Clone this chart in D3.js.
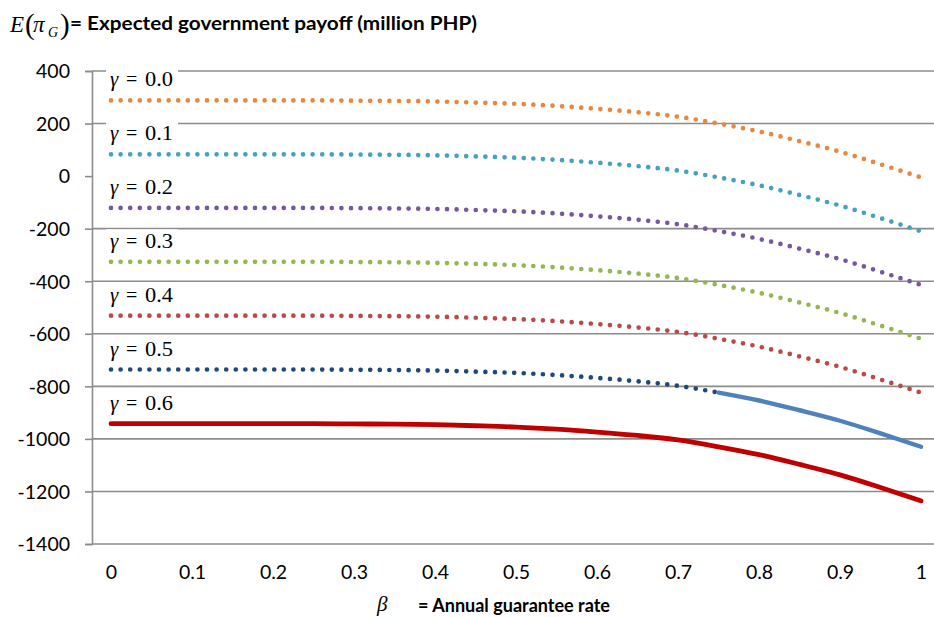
<!DOCTYPE html>
<html>
<head>
<meta charset="utf-8">
<script src="https://cdn.jsdelivr.net/npm/d3@7"></script>
<style>
  html, body { margin: 0; padding: 0; background: #fff; }
  svg { display: block; }
</style>
</head>
<body>
<svg id="chart" width="934" height="617"></svg>
<script>
// ---- data ----
const betas = [0, 0.05, 0.1, 0.15, 0.2, 0.25, 0.3, 0.35, 0.4, 0.45, 0.5, 0.55, 0.6, 0.65, 0.7, 0.75, 0.8, 0.85, 0.9, 0.95, 1];
const gammaLabels = ["0.0", "0.1", "0.2", "0.3", "0.4", "0.5", "0.6"];
const payoffG00 = [288, 288, 288, 288, 288, 288, 287, 286, 284, 280, 275, 267, 256, 243, 226, 200, 170, 133, 93, 45, -5];
const payoffG01 = [83, 83, 83, 83, 83, 83, 82, 81, 79, 75, 70, 62, 51, 38, 21, -5, -35, -72, -112, -160, -210];
const payoffG02 = [-121, -121, -121, -121, -121, -121, -122, -123, -125, -129, -134, -142, -153, -166, -183, -209, -239, -276, -316, -364, -414];
const payoffG03 = [-326, -326, -326, -326, -326, -326, -327, -328, -330, -334, -339, -347, -358, -371, -388, -414, -444, -481, -521, -569, -619];
const payoffG04 = [-531, -531, -531, -531, -531, -531, -532, -533, -535, -539, -544, -552, -563, -576, -593, -619, -649, -686, -726, -774, -824];
const payoffG05 = [-736, -736, -736, -736, -736, -736, -737, -738, -740, -744, -749, -757, -768, -781, -798, -824, -854, -891, -931, -979, -1030];
const payoffG06 = [-942, -942, -942, -942, -942, -942, -943, -944, -946, -950, -955, -963, -974, -987, -1004, -1030, -1060, -1097, -1137, -1185, -1236];
const g05SolidFrom = 0.75;   // γ = 0.5 curve turns solid from this β on
const yTicks = [400, 200, 0, -200, -400, -600, -800, -1000, -1200, -1400];
const xTicks = [0, 0.1, 0.2, 0.3, 0.4, 0.5, 0.6, 0.7, 0.8, 0.9, 1];

// ---- layout ----
const svg = d3.select("#chart");
const axisX = 92, plotTop = 71, plotBottom = 544, plotRight = 934;
const x = d3.scaleLinear().domain([0, 1]).range([111, 921]);
const y = d3.scaleLinear().domain([-1400, 400]).range([plotBottom, plotTop]);
const gridColor = "#8c8c8c";
const sans = "Lato, 'Open Sans', sans-serif";
const serif = "'Liberation Serif', 'DejaVu Serif', serif";

// gridlines (no line at 0, bottom one is the axis)
svg.append("g").selectAll("line")
  .data(yTicks.filter(v => v !== 0))
  .join("line")
  .attr("x1", axisX).attr("x2", plotRight)
  .attr("y1", d => y(d)).attr("y2", d => y(d))
  .attr("stroke", gridColor).attr("stroke-width", 1.6);

// y axis
const yAxis = d3.axisLeft(y).tickValues(yTicks).tickSize(7).tickPadding(15).tickFormat(d => String(d));
const gy = svg.append("g").attr("transform", `translate(${axisX},0)`).call(yAxis);
gy.select(".domain").attr("stroke", gridColor).attr("stroke-width", 1.6);
gy.selectAll(".tick line").attr("stroke", gridColor).attr("stroke-width", 1.6);
gy.selectAll(".tick text").attr("font-family", sans).attr("font-size", 19.5).attr("fill", "#000")
  .attr("dy", "0.35em");

// x axis labels (no tick marks)
const xAxis = d3.axisBottom(x).tickValues(xTicks).tickSize(0).tickPadding(0)
  .tickFormat(d => (d === 0 || d === 1) ? String(d) : d3.format(".1f")(d));
const gx = svg.append("g").attr("transform", `translate(0,${plotBottom})`).call(xAxis);
gx.select(".domain").remove();
gx.selectAll(".tick text").attr("font-family", sans).attr("font-size", 19.5).attr("fill", "#000")
  .attr("dy", null).attr("y", 35);

// ---- series ----
const series = [
  { label: gammaLabels[0], values: payoffG00, color: "#E8873E", dotted: true },
  { label: gammaLabels[1], values: payoffG01, color: "#45A2BE", dotted: true },
  { label: gammaLabels[2], values: payoffG02, color: "#76599D", dotted: true },
  { label: gammaLabels[3], values: payoffG03, color: "#94B654", dotted: true },
  { label: gammaLabels[4], values: payoffG04, color: "#BA4A47", dotted: true },
  { label: gammaLabels[5], values: payoffG05, color: "#1F497D", dotted: true, solidFrom: g05SolidFrom, solidColor: "#4F81BD" },
  { label: gammaLabels[6], values: payoffG06, color: "#C00000", dotted: false }
];

const dotW = 4.7, dotGap = "0 9.6";
const line = d3.line().x(d => x(d[0])).y(d => y(d[1])).curve(d3.curveMonotoneX);
const gLines = svg.append("g");
series.forEach(s => {
  const pts = betas.map((b, i) => [b, s.values[i]]);
  if (s.solidFrom !== undefined) {
    const dotPts = pts.filter(p => p[0] <= s.solidFrom);
    const solidPts = pts.filter(p => p[0] >= s.solidFrom);
    gLines.append("path").attr("d", line(dotPts)).attr("fill", "none")
      .attr("stroke", s.color).attr("stroke-width", dotW).attr("stroke-linecap", "round")
      .attr("stroke-dasharray", dotGap);
    gLines.append("path").attr("d", line(solidPts)).attr("fill", "none")
      .attr("stroke", s.solidColor).attr("stroke-width", 4.4).attr("stroke-linecap", "round");
  } else if (s.dotted) {
    gLines.append("path").attr("d", line(pts)).attr("fill", "none")
      .attr("stroke", s.color).attr("stroke-width", dotW).attr("stroke-linecap", "round")
      .attr("stroke-dasharray", dotGap);
  } else {
    gLines.append("path").attr("d", line(pts)).attr("fill", "none")
      .attr("stroke", s.color).attr("stroke-width", 4.8).attr("stroke-linecap", "round");
  }
});

// ---- γ labels (white boxes behind) ----
const gLab = svg.append("g");
series.forEach(s => {
  const by = y(s.values[0]) - 14;
  const g = gLab.append("g");
  const rect = g.append("rect").attr("fill", "#fff");
  const t = g.append("text").attr("y", by)
    .attr("font-family", serif).attr("font-size", 20).attr("fill", "#000");
  t.append("tspan").attr("x", 110).attr("font-style", "italic").attr("font-size", 21).text("γ");
  t.append("tspan").attr("x", 126).text("=");
  t.append("tspan").attr("x", 145).attr("textLength", 28).attr("lengthAdjust", "spacingAndGlyphs").text(s.label);
  const bb = t.node().getBBox();
  rect.attr("x", bb.x - 4).attr("y", bb.y + 0.5).attr("width", bb.width + 9).attr("height", bb.height - 1);
});

// ---- axis titles ----
const yt = svg.append("g");
yt.append("text").attr("x", 10).attr("y", 32).attr("font-family", serif).attr("font-style", "italic")
  .attr("font-size", 23).text("E");
yt.append("text").attr("x", 25).attr("y", 34).attr("font-family", serif)
  .attr("font-size", 29).text("(");
yt.append("text").attr("x", 33).attr("y", 32).attr("font-family", serif).attr("font-style", "italic")
  .attr("font-size", 23).text("π");
yt.append("text").attr("x", 48).attr("y", 37).attr("font-family", serif).attr("font-style", "italic")
  .attr("font-size", 14).text("G");
yt.append("text").attr("x", 60).attr("y", 34).attr("font-family", serif)
  .attr("font-size", 29).text(")");
yt.append("text").attr("x", 70).attr("y", 30).attr("font-family", sans).attr("font-weight", "bold")
  .attr("font-size", 18.5).attr("textLength", 407).attr("lengthAdjust", "spacingAndGlyphs")
  .text("= Expected government payoff (million PHP)");

const xt = svg.append("g");
xt.append("text").attr("x", 377).attr("y", 611).attr("font-family", serif).attr("font-style", "italic")
  .attr("font-size", 21).text("β");
xt.append("text").attr("x", 418).attr("y", 612).attr("font-family", sans).attr("font-weight", "bold")
  .attr("font-size", 18.5).attr("textLength", 192).attr("lengthAdjust", "spacingAndGlyphs")
  .text("= Annual guarantee rate");
</script>
</body>
</html>
